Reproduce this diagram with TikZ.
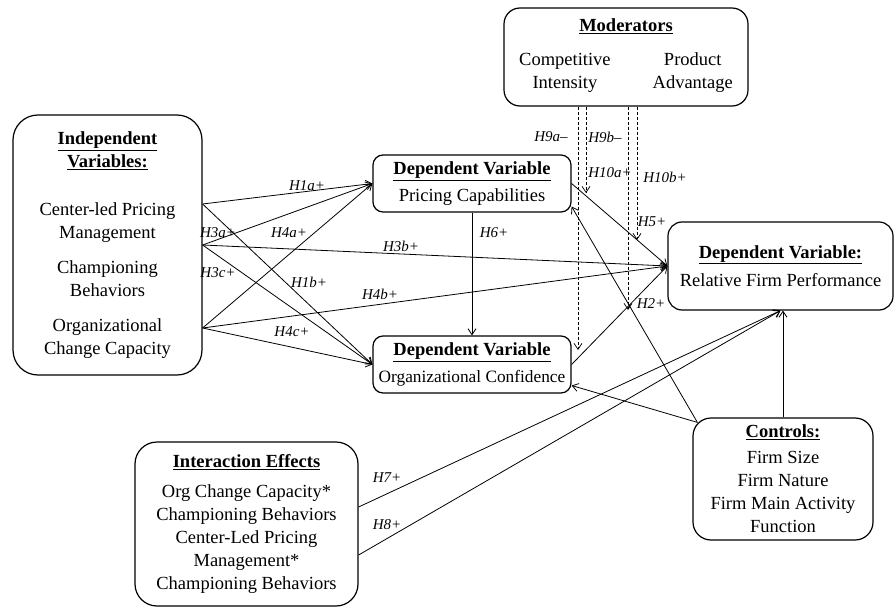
\documentclass[tikz,border=0pt]{standalone}
\usepackage{fontspec}
\setmainfont{Liberation Serif}
\usetikzlibrary{arrows.meta}

\begin{document}
\begin{tikzpicture}[x=1pt,y=-1pt,
    >={Straight Barb[length=6pt,width=8pt]},
    every node/.style={font=\fontsize{18.5}{23}\selectfont},
    box/.style={draw,line width=1.2pt,align=center,inner sep=0pt},
    lbl/.style={font=\fontsize{15}{18}\selectfont\itshape,inner sep=0pt},
    link/.style={->,line width=0.8pt},
    modlink/.style={->,line width=0.7pt,dash pattern=on 3pt off 2pt}]

  \useasboundingbox (0,0) rectangle (895,610);

  % boxes
  \node[box,rounded corners=25pt,minimum width=189pt,minimum height=260pt]
    (indep) at (107.5,245)
    {\underline{\textbf{Independent}}\\\underline{\textbf{Variables:}}\\[25pt]
     Center-led Pricing\\Management\\[12pt]
     Championing\\Behaviors\\[12pt]
     Organizational\\Change Capacity};
  \node[box,rounded corners=10pt,minimum width=198pt,minimum height=57pt]
    (pc) at (472,183.5)
    {\underline{\textbf{Dependent Variable}}\\[4pt]Pricing Capabilities};
  \node[box,rounded corners=10pt,minimum width=198pt,minimum height=57pt]
    (oc) at (472,364.5)
    {\underline{\textbf{Dependent Variable}}\\[4pt]
     {\fontsize{17.3}{23}\selectfont Organizational Confidence}};
  \node[box,rounded corners=14pt,minimum width=225pt,minimum height=88pt]
    (rfp) at (780.5,266)
    {\underline{\textbf{Dependent Variable:}}\\[5pt]Relative Firm Performance};
  \node[box,rounded corners=16pt,minimum width=244pt,minimum height=98pt]
    (mod) at (626,57)
    {\underline{\textbf{Moderators}}\\[11pt]
     \begin{tabular}[t]{@{}c@{\hspace{42pt}}c@{}}
       Competitive & Product\\
       Intensity & Advantage
     \end{tabular}};
  \node[box,rounded corners=18pt,minimum width=180pt,minimum height=122pt]
    (ctrl) at (783,479)
    {\underline{\textbf{Controls:}}\\[3pt]Firm Size\\Firm Nature\\
     Firm Main Activity\\Function};
  \node[box,rounded corners=22pt,minimum width=223pt,minimum height=164pt]
    (inter) at (246.5,524)
    {\underline{\textbf{Interaction Effects}}\\[7pt]
     Org Change Capacity*\\Championing Behaviors\\
     Center-Led Pricing\\Management*\\Championing Behaviors};

  % end points
  \coordinate (cl) at ([yshift=41pt]indep.east);
  \coordinate (ch) at (indep.east);
  \coordinate (occ) at ([yshift=-83pt]indep.east);
  \coordinate (cc) at ([shift={(5pt,-5pt)}]ctrl.north west);
  \coordinate (m9a) at (578,350);
  \coordinate (m9b) at (586,193);
  \coordinate (m10a) at (628,310);
  \coordinate (m10b) at (637,240);

  \path[link]
  (cl) edge (pc.west)
  (cl) edge (oc.west)
  (ch) edge (pc.west)
  (ch) edge (rfp.west)
  (ch) edge (oc.west)
  (occ) edge (pc.west)
  (occ) edge (rfp.west)
  (occ) edge (oc.west)
  (pc.south) edge (oc.north)
  (pc.east) edge (rfp.west)
  (oc.east) edge (rfp.west)
  (cc) edge ([yshift=-23pt]pc.east)
  (cc) edge ([yshift=-21pt]oc.east)
  (ctrl.north) edge (ctrl.north |- rfp.south)
  ([yshift=17pt]inter.east) edge (rfp.south)
  ([yshift=-31pt]inter.east) edge (rfp.south);

  \path[modlink]
  (mod.south -| m9a) edge (m9a)
  (mod.south -| m9b) edge (m9b)
  (mod.south -| m10a) edge (m10a)
  (mod.south -| m10b) edge (m10b);

  % hypothesis labels
  \node[lbl] (h1a) at (307,186) {H1a+};
  \node[lbl] (h3a) at (218,233) {H3a+};
  \node[lbl] (h4a) at (289,233) {H4a+};
  \node[lbl] (h3b) at (401,246) {H3b+};
  \node[lbl] (h3c) at (218,273) {H3c+};
  \node[lbl] (h1b) at (309,282) {H1b+};
  \node[lbl] (h4b) at (380,294) {H4b+};
  \node[lbl] (h4c) at (292,332) {H4c+};
  \node[lbl] (h6) at (494,233) {H6+};
  \node[lbl] (h9a) at (551,137) {H9a--};
  \node[lbl] (h9b) at (605,137) {H9b--};
  \node[lbl] (h10a) at (610,173) {H10a+};
  \node[lbl] (h10b) at (665,177) {H10b+};
  \node[lbl] (h5) at (652,222) {H5+};
  \node[lbl] (h2) at (651,304) {H2+};
  \node[lbl] (h7) at (387,478) {H7+};
  \node[lbl] (h8) at (387,525) {H8+};

\end{tikzpicture}
\end{document}
